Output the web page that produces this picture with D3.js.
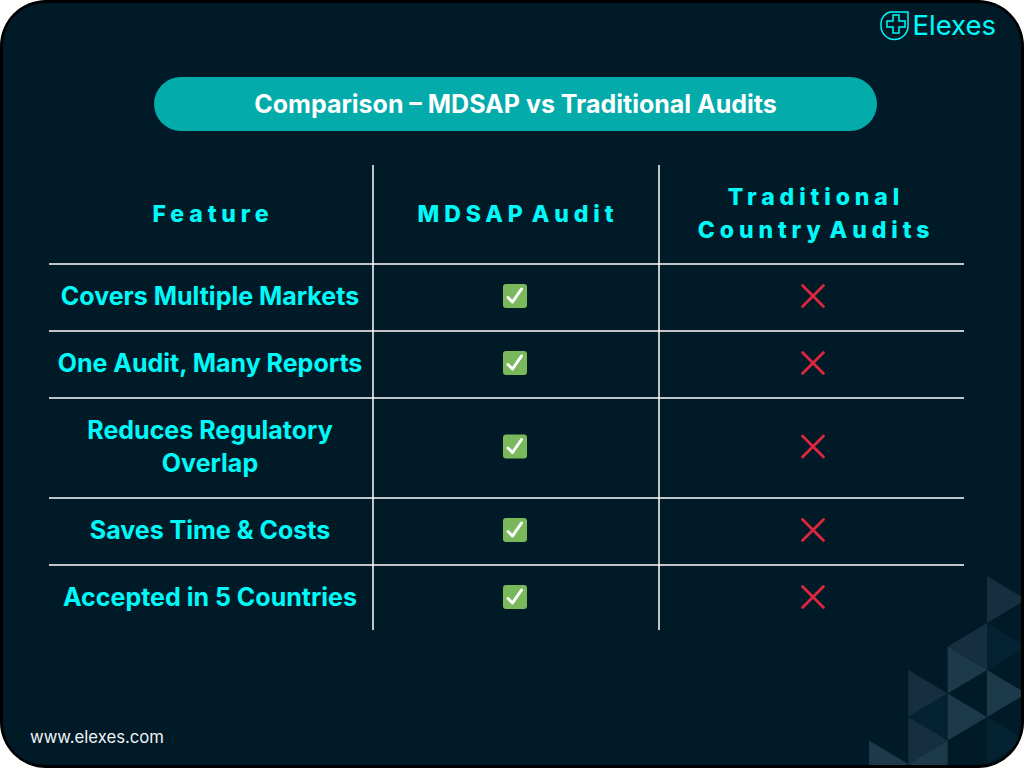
<!DOCTYPE html>
<html><head><meta charset="utf-8">
<script src="https://cdnjs.cloudflare.com/ajax/libs/d3/7.8.5/d3.min.js"></script>
<style>html,body{margin:0;padding:0;background:#fff;overflow:hidden}svg{display:block}
text{font-family:Inter,"Noto Sans",sans-serif}</style></head><body>
<svg id="c" width="1024" height="768"></svg>
<script>
const titleText = "Comparison – MDSAP vs Traditional Audits";
const brand = "Elexes";
const site = "www.elexes.com";
const headers = [["Feature"],["MDSAP Audit"],["Traditional","Country Audits"]];
const features = [["Covers Multiple Markets"],["One Audit, Many Reports"],["Reduces Regulatory","Overlap"],["Saves Time & Costs"],["Accepted in 5 Countries"]];
const mdsap = [true,true,true,true,true];
const traditional = [false,false,false,false,false];
// decorative lattice: [column, half-row start, direction(1 right,-1 left), tone]
const lattice = [[3,0,1,0],[2,2,-1,0],[3,2,1,2],[2,3,1,1],[3,4,1,1],[1,4,1,0],[1,5,-1,2],[2,5,1,1],[1,6,1,0],[1,7,-1,1],[3,6,1,2],[0,7,1,1]];
const tones = ["#152f40","#1d3a4a","#052233"];

const svg = d3.select("#c");
const W=1024,H=768;
const defs = svg.append("defs");
defs.append("clipPath").attr("id","card").append("rect").attr("x",3).attr("y",3).attr("width",W-6).attr("height",H-6).attr("rx",42);
svg.append("rect").attr("width",W).attr("height",H).attr("rx",46).attr("fill","#000");
const card = svg.append("g").attr("clip-path","url(#card)");
card.append("rect").attr("width",W).attr("height",H).attr("fill","#011a27");

const lx = d3.scaleLinear().domain([0,3]).range([869,987]);
const ly = d3.scaleLinear().domain([0,8]).range([576,764]);
const triLine = d3.line().x(p=>lx(p[0])).y(p=>ly(p[1]));
card.selectAll("path.tri").data(lattice).join("path").attr("class","tri")
 .attr("fill",d=>tones[d[3]])
 .attr("d",d=>{
   const[c,r,dir]=d;
   const base = dir>0?c:c+1, tip = dir>0?c+1:c;
   return triLine([[base,r],[tip,r+1],[base,r+2]])+"Z";
 });

// title
svg.append("rect").attr("x",154).attr("y",77).attr("width",723).attr("height",54).attr("rx",27).attr("fill","#03abab");
svg.append("text").attr("x",515.5).attr("y",112.5).attr("text-anchor","middle").attr("font-size",25).attr("font-weight",700).attr("fill","#fff").text(titleText);

// table scales
const rowLines = features.map(f=>f.length);
const rowH = n=>34+33*n;
const tableTop = 264;
const edges = rowLines.reduce((a,n)=>{a.push(a[a.length-1]+rowH(n));return a;},[tableTop]);
const colCenter = d3.scaleOrdinal().domain([0,1,2]).range([210,515,813]);
const cyan="#00fafa";

const grid = svg.append("g").attr("stroke","#ffffff").attr("stroke-width",1.5);
grid.selectAll("line.h").data(edges.slice(0,-1)).join("line").attr("class","h").attr("x1",49).attr("x2",964).attr("y1",d=>d).attr("y2",d=>d);
grid.selectAll("line.v").data([373,659]).join("line").attr("class","v").attr("x1",d=>d).attr("x2",d=>d).attr("y1",165).attr("y2",630);

headers.forEach((h,i)=>{
  h.forEach((t,j)=>{
    svg.append("text").attr("x",colCenter(i)+3).attr("y",213.5-(h.length-1)*16.5+j*33+8).attr("text-anchor","middle")
      .attr("font-size",23).attr("font-weight",800).attr("letter-spacing",4.9).attr("word-spacing",-6).attr("fill",cyan).text(t);
  });
});
features.forEach((f,i)=>{
  const cy=(edges[i]+edges[i+1])/2;
  f.forEach((t,j)=>{
    svg.append("text").attr("x",colCenter(0)).attr("y",cy-0.5-(f.length-1)*16.5+j*33+8).attr("text-anchor","middle")
      .attr("font-size",25).attr("font-weight",700).attr("fill",cyan).text(t);
  });
  [mdsap[i],traditional[i]].forEach((v,k)=>{
    const g=svg.append("g").attr("transform",`translate(${colCenter(k+1)},${cy-1.5})`);
    if(v){
      g.append("rect").attr("x",-12).attr("y",-12).attr("width",24).attr("height",24).attr("rx",3).attr("fill","#7ab85c");
      g.append("path").attr("d","M-7 1.5L-2.5 6L6.5 -7").attr("fill","none").attr("stroke","#fff").attr("stroke-width",3).attr("stroke-linecap","round").attr("stroke-linejoin","round");
    } else {
      g.append("path").attr("d","M-10.5 -10.5L10.5 10.5M10.5 -10.5L-10.5 10.5").attr("fill","none").attr("stroke","#e0263f").attr("stroke-width",2.8).attr("stroke-linecap","round");
    }
  });
});

// logo
const logo=svg.append("g").attr("fill","none").attr("stroke",cyan).attr("stroke-width",1.5);
logo.append("path").attr("d","M890 12H908V26A13.5 13.5 0 0 1 881 26V23A12 12 0 0 1 890 12Z");
logo.append("path").attr("d","M893 15H899V21H905V27H899V33H893V27H887V21H893Z");
svg.append("text").attr("x",912.5).attr("y",35).attr("font-size",27.5).attr("font-weight",400).attr("fill",cyan).text(brand);
svg.append("text").attr("x",30).attr("y",743).attr("font-size",16.7).attr("font-weight",400).attr("fill","#f0f4f6").text(site);
</script></body></html>
